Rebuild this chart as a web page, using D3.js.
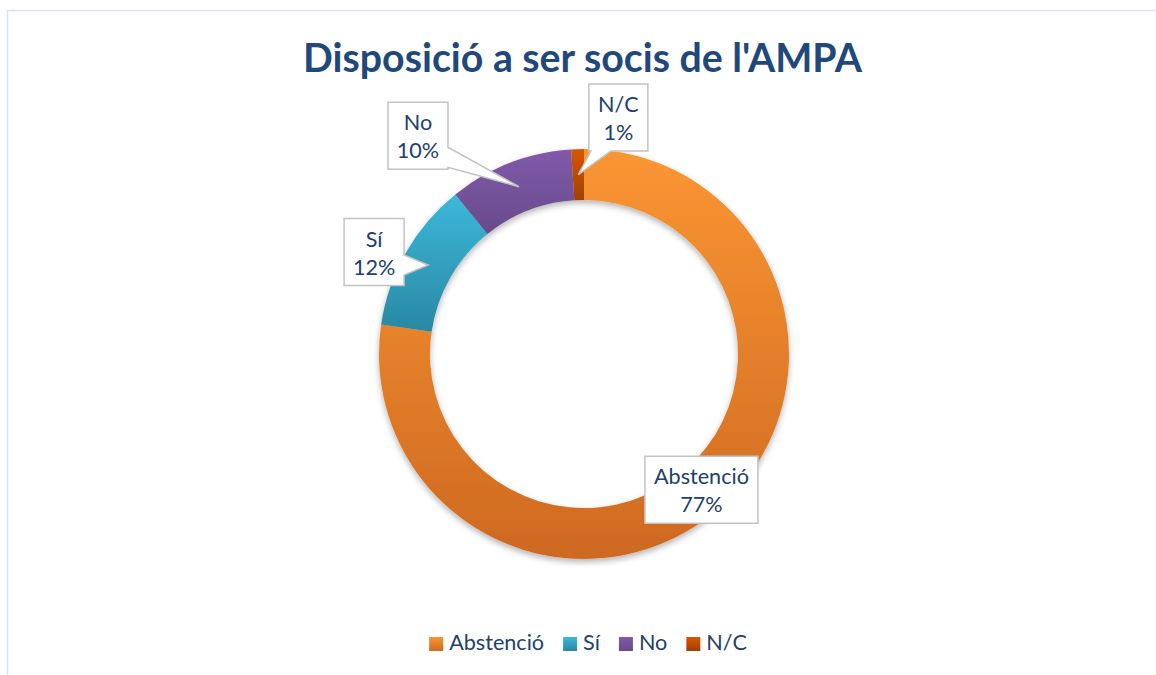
<!DOCTYPE html>
<html><head><meta charset="utf-8">
<script src="https://cdn.jsdelivr.net/npm/d3@7"></script>
<style>body{margin:0;background:#fff} svg{display:block}</style>
</head><body>
<script>
// ---- data ----
const chartTitle = "Disposició a ser socis de l'AMPA";
const categories = ["Abstenció", "Sí", "No", "N/C"];
const values = [77.3, 11.9, 9.8, 1.0];
const percentLabels = ["77%", "12%", "10%", "1%"];

// ---- styles / layout ----
const colorsTop = ["#FA9632", "#3CB8DA", "#815AAA", "#D85600"];
const colorsBottom = ["#CE6921", "#2988A3", "#684A8B", "#A04000"];
const labelOffsets = [[0, 0], [-54, -13], [-101, -51], [40, -57]];
const W = 1156, H = 675;
const cx = 584, cy = 354, rOuter = 205, rInner = 154;
const font = "Lato, 'Open Sans', sans-serif";
const textColor = "#22406C";

const svg = d3.select("body").append("svg").attr("width", W).attr("height", H);
const defs = svg.append("defs");

// frame
svg.append("rect").attr("x", 7.5).attr("y", 10.5).attr("width", W + 20).attr("height", H + 20)
  .attr("fill", "#fff").attr("stroke", "#D6E3F4").attr("stroke-width", 1.5);

// fit helper
function fitWidth(sel, target) {
  const fs = parseFloat(sel.attr("font-size"));
  const w = sel.node().getComputedTextLength();
  sel.attr("font-size", fs * target / w);
  return fs * target / w;
}

// title
const t = svg.append("text").attr("x", 582.5).attr("y", 72).attr("text-anchor", "middle")
  .attr("font-family", font).attr("font-weight", 700).attr("font-size", 40)
  .attr("fill", "#1F497D").text(chartTitle);
fitWidth(t, 559);

// measure body font size: "Abstenció" ~ 95px wide
const probe = svg.append("text").attr("font-family", font).attr("font-size", 20).text(categories[0]);
const bodySize = fitWidth(probe, 95);
probe.remove();

// gradients
categories.forEach((c, i) => {
  const g = defs.append("linearGradient").attr("id", "g" + i)
    .attr("x1", 0).attr("y1", 0).attr("x2", 0).attr("y2", 1);
  g.append("stop").attr("offset", 0).attr("stop-color", colorsTop[i]);
  g.append("stop").attr("offset", 1).attr("stop-color", colorsBottom[i]);
});
const f = defs.append("filter").attr("id", "sh").attr("x", -0.2).attr("y", -0.2).attr("width", 1.4).attr("height", 1.4);
f.append("feDropShadow").attr("dx", 0).attr("dy", 3).attr("stdDeviation", 3)
  .attr("flood-color", "#000").attr("flood-opacity", 0.3);

// donut
const pie = d3.pie().sort(null).value(d => d)(values);
const arc = d3.arc().innerRadius(rInner).outerRadius(rOuter);
const g = svg.append("g").attr("transform", `translate(${cx},${cy})`).attr("filter", "url(#sh)");
g.selectAll("path").data(pie).join("path")
  .attr("d", arc).attr("fill", (d, i) => `url(#g${i})`);

// callouts
function calloutPath(x0, y0, w, h, tip) {
  const x1 = x0 + w, y1 = y0 + h, hw = 10, m = 2;
  const [tx, ty] = tip;
  const dxo = tx < x0 ? x0 - tx : tx > x1 ? tx - x1 : 0;
  const dyo = ty < y0 ? y0 - ty : ty > y1 ? ty - y1 : 0;
  const cl = (v, a, b) => Math.max(a, Math.min(b, v));
  if (dxo === 0 && dyo === 0) return `M${x0},${y0}H${x1}V${y1}H${x0}Z`;
  if (dxo >= dyo) {
    const c = cl(ty, y0 + hw + m, y1 - hw - m);
    if (tx > x1) return `M${x0},${y0}H${x1}V${c - hw}L${tx},${ty}L${x1},${c + hw}V${y1}H${x0}Z`;
    return `M${x0},${y0}H${x1}V${y1}H${x0}V${c + hw}L${tx},${ty}L${x0},${c - hw}Z`;
  } else {
    const c = cl(tx, x0 + hw + m, x1 - hw - m);
    if (ty > y1) return `M${x0},${y0}H${x1}V${y1}H${c + hw}L${tx},${ty}L${c - hw},${y1}H${x0}Z`;
    return `M${x0},${y0}H${c - hw}L${tx},${ty}L${c + hw},${y0}H${x1}V${y1}H${x0}Z`;
  }
}

const lab = svg.append("g");
pie.forEach((d, i) => {
  const c = arc.centroid(d);
  const tip = [cx + c[0], cy + c[1]];
  const bx = tip[0] + labelOffsets[i][0], by = tip[1] + labelOffsets[i][1];
  const grp = lab.append("g");
  const path = grp.append("path");
  const txt = grp.append("text").attr("font-family", font).attr("font-size", bodySize)
    .attr("fill", textColor).attr("text-anchor", "middle");
  txt.append("tspan").attr("x", bx).attr("y", by - 5.5).text(categories[i]);
  txt.append("tspan").attr("x", bx).attr("y", by + 22.5).text(percentLabels[i]);
  const tw = txt.node().getBBox().width;
  const w = Math.round(tw + 18), h = 67;
  path.attr("d", calloutPath(bx - w / 2, by - h / 2, w, h, tip))
    .attr("fill", "#fff").attr("stroke", "#C3C3C3").attr("stroke-width", 1.5)
    .attr("stroke-linejoin", "miter");
});

// legend
const leg = svg.append("g");
let x = 0;
const items = [];
categories.forEach((c, i) => {
  const it = leg.append("g");
  it.append("rect").attr("x", x).attr("y", 637).attr("width", 14).attr("height", 14)
    .attr("fill", `url(#g${i})`);
  const tx = it.append("text").attr("x", x + 20).attr("y", 650).attr("font-family", font)
    .attr("font-size", bodySize).attr("fill", textColor).text(c);
  x += 20 + tx.node().getComputedTextLength() + 19;
});
const total = x - 19;
leg.attr("transform", `translate(${588 - total / 2},0)`);
</script>
</body></html>
